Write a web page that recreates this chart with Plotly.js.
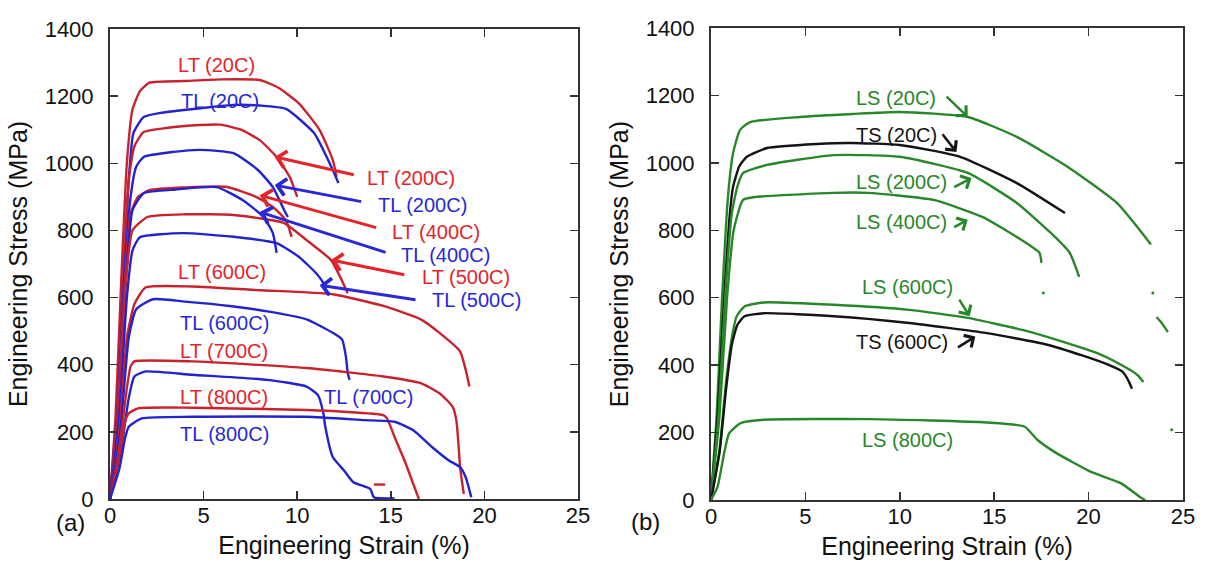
<!DOCTYPE html>
<html>
<head>
<meta charset="utf-8">
<script src="https://cdn.plot.ly/plotly-3.0.1.min.js"></script>
<style>html,body{margin:0;padding:0;background:#fff;}#chart{width:1207px;height:563px;}</style>
</head>
<body>
<div id="chart"></div>
<script>
// ---------- Panel (a): strain (%) and stress (MPa) ----------
const LT20_x  = [0,0.3,0.6,0.9,1.2,1.6,2.1,4,6,8,9,10.1,11.2,11.9,12.1];
const LT20_y  = [0,250,650,1000,1160,1215,1240,1245,1250,1248,1225,1178,1099,1010,960];
const TL20_x  = [0,0.35,0.7,1.0,1.25,1.8,2.7,5,6.6,8,9.4,10.9,11.9,12.2];
const TL20_y  = [0,250,650,950,1090,1138,1150,1165,1174,1172,1162,1090,980,941];
const LT200_x = [0,0.35,0.7,1.0,1.3,1.8,3,4.8,5.9,7,8,8.9,9.6,10.0];
const LT200_y = [0,250,650,950,1050,1093,1105,1114,1115,1100,1069,1019,959,900];
const TL200_x = [0,0.4,0.75,1.1,1.4,1.8,3.4,4.8,6.6,7.9,8.7,9.3,9.5];
const TL200_y = [0,250,650,900,990,1019,1034,1040,1030,980,929,861,840];
const LT400_x = [0,0.4,0.8,1.1,1.5,2.1,4,6.2,7.8,8.7,9.4,9.7];
const LT400_y = [0,250,650,850,900,920,928,930,900,870,830,781];
const TL400_x = [0,0.45,0.85,1.2,1.8,3.5,5.7,7.1,8.2,8.7,8.9];
const TL400_y = [0,250,650,860,911,922,929,890,840,792,733];
const LT500_x = [0,0.45,0.85,1.2,2.0,4,6.6,9.3,10.5,11.8,12.3,12.7];
const LT500_y = [0,250,650,800,840,848,846,822,771,712,661,613];
const TL500_x = [0,0.5,0.9,1.2,1.6,3.9,6.6,8.9,10.1,11.0,11.4,11.6];
const TL500_y = [0,250,600,740,780,792,781,762,721,673,643,613];
const LT600_x = [0,0.5,0.9,1.3,1.9,4.4,8,11.9,14.6,16.6,17.6,18.7,19.0,19.2];
const LT600_y = [0,200,480,580,630,633,622,610,575,535,495,440,385,335];
const TL600_x = [0,0.55,1.0,1.4,2.3,4,6.4,8.5,10.5,11.9,12.4,12.6,12.7,12.8];
const TL600_y = [0,200,480,565,595,588,575,558,535,495,475,425,375,355];
const LT700_x = [0,0.5,0.9,1.1,1.3,4.4,10.5,14.6,16.6,17.6,18.3,18.5,18.6,18.7,18.9];
const LT700_y = [0,150,330,395,410,410,390,365,345,315,275,235,175,95,15];
const TL700_x = [0,0.6,1.0,1.3,1.9,4.4,8.4,10.5,11.1,11.4,11.5,11.9,12.5,13.0,13.9,14.1,15.2];
const TL700_y = [0,150,300,365,380,370,355,335,310,255,215,125,85,50,30,5,2];
const LT800_x = [0,0.5,0.8,1.0,1.5,4.4,10.5,12.5,14.6,14.8,15.2,15.8,16.2,16.5];
const LT800_y = [0,120,230,255,270,272,265,260,250,240,185,105,45,0];
const TL800_x = [0,0.5,0.8,1.0,1.7,4.4,10.5,13.6,15.2,16.2,17.2,18.1,18.7,19.0,19.3];
const TL800_y = [0,90,180,215,240,245,245,235,230,205,155,115,95,65,5];
// small detached red dash below the LT (800C) drop
const LT800dash_x = [14.1,14.7];
const LT800dash_y = [43,43];

// ---------- Panel (b) ----------
const LS20_x  = [0,0.3,0.58,0.9,1.17,1.54,2.07,4.7,7.5,10.0,13.6,16.2,18.9,21.5,23.3];
const LS20_y  = [0,250,593,900,1029,1098,1121,1136,1145,1151,1136,1077,988,881,758];
const TS20_x  = [0,0.35,0.7,1.0,1.17,1.5,1.9,2.97,5.6,7.4,10.0,13.2,16.2,18.75];
const TS20_y  = [0,250,600,850,929,990,1018,1044,1056,1059,1053,1018,940,851];
const LS200_x = [0,0.4,0.75,1.1,1.4,1.7,2.97,6.5,10.0,13.6,16.2,18.0,19.0,19.5];
const LS200_y = [0,250,600,850,930,970,994,1023,1018,970,881,792,733,662];
const LS400_x = [0,0.45,0.85,1.2,1.7,2.4,6.5,8.3,11.8,14.4,16.2,17.4,17.5];
const LS400_y = [0,250,600,800,890,899,911,911,890,839,780,733,703];
const LS600_x = [0,0.45,0.8,1.1,1.36,1.77,2.8,6.5,10.5,13.6,16.6,18.7,20.7,22.0,22.6,22.9];
const LS600_y = [0,150,350,480,545,574,586,579,564,540,503,468,430,392,370,350];
const TS600_x = [0,0.45,0.8,1.1,1.4,1.77,2.8,6.5,10.5,14.6,17.7,19.7,21.0,21.8,22.1,22.3];
const TS600_y = [0,140,330,460,520,545,554,545,525,495,462,428,402,380,355,330];
const LS800_x = [0,0.35,0.7,0.96,1.57,2.8,8.5,14.6,16.6,17.3,18.3,20.1,21.7,22.7,23.0];
const LS800_y = [0,40,140,198,228,238,240,230,218,178,139,84,50,10,0];
// detached green fragments at the right of panel (b)
const LSfrag_x = [23.6,23.8,24.0,24.2];
const LSfrag_y = [543,530,515,498];
const speckB_x = [23.4,24.4,17.6];
const speckB_y = [614,208,614];

const RED = 'rgb(200,35,45)', BLUE = 'rgb(35,35,205)', GREEN = 'rgb(40,135,40)', BLACK = 'rgb(20,20,20)';
const RED_T = 'rgb(228,36,42)', BLUE_T = 'rgb(40,40,215)', GREEN_T = 'rgb(40,135,40)';
const FONT = 'Liberation Sans, Arial, sans-serif';

function curve(x, y, color, xa, ya, name) {
  return {x: x, y: y, type: 'scatter', mode: 'lines', name: name,
          line: {color: color, width: 2.4, shape: 'spline', smoothing: 0.5},
          xaxis: xa, yaxis: ya, hoverinfo: 'x+y+name'};
}

const data = [
  curve(LT20_x, LT20_y, RED, 'x', 'y', 'LT (20C)'),
  curve(TL20_x, TL20_y, BLUE, 'x', 'y', 'TL (20C)'),
  curve(LT200_x, LT200_y, RED, 'x', 'y', 'LT (200C)'),
  curve(TL200_x, TL200_y, BLUE, 'x', 'y', 'TL (200C)'),
  curve(LT400_x, LT400_y, RED, 'x', 'y', 'LT (400C)'),
  curve(TL400_x, TL400_y, BLUE, 'x', 'y', 'TL (400C)'),
  curve(LT500_x, LT500_y, RED, 'x', 'y', 'LT (500C)'),
  curve(TL500_x, TL500_y, BLUE, 'x', 'y', 'TL (500C)'),
  curve(LT600_x, LT600_y, RED, 'x', 'y', 'LT (600C)'),
  curve(TL600_x, TL600_y, BLUE, 'x', 'y', 'TL (600C)'),
  curve(LT700_x, LT700_y, RED, 'x', 'y', 'LT (700C)'),
  curve(TL700_x, TL700_y, BLUE, 'x', 'y', 'TL (700C)'),
  curve(LT800_x, LT800_y, RED, 'x', 'y', 'LT (800C)'),
  curve(TL800_x, TL800_y, BLUE, 'x', 'y', 'TL (800C)'),
  curve(LT800dash_x, LT800dash_y, RED, 'x', 'y', 'LT (800C) fragment'),
  curve(LS20_x, LS20_y, GREEN, 'x2', 'y2', 'LS (20C)'),
  curve(TS20_x, TS20_y, BLACK, 'x2', 'y2', 'TS (20C)'),
  curve(LS200_x, LS200_y, GREEN, 'x2', 'y2', 'LS (200C)'),
  curve(LS400_x, LS400_y, GREEN, 'x2', 'y2', 'LS (400C)'),
  curve(LS600_x, LS600_y, GREEN, 'x2', 'y2', 'LS (600C)'),
  curve(TS600_x, TS600_y, BLACK, 'x2', 'y2', 'TS (600C)'),
  curve(LS800_x, LS800_y, GREEN, 'x2', 'y2', 'LS (800C)'),
  curve(LSfrag_x, LSfrag_y, GREEN, 'x2', 'y2', 'fragment'),
  {x: speckB_x, y: speckB_y, type: 'scatter', mode: 'markers', xaxis: 'x2', yaxis: 'y2',
   marker: {color: GREEN, size: 3}, hoverinfo: 'skip', name: 'specks'}
];

function xax(domain, anchor) {
  return {domain: domain, anchor: anchor, range: [0, 25], dtick: 5, tick0: 0,
    ticks: 'inside', ticklen: 8, tickwidth: 1.5, tickcolor: '#333',
    showline: true, linecolor: '#333', linewidth: 2, mirror: 'ticks',
    showgrid: false, zeroline: false, ticklabelstandoff: -4,
    tickfont: {family: FONT, size: 22, color: '#111'},
    title: {text: 'Engineering Strain (%)', font: {family: FONT, size: 25, color: '#111'}, standoff: 9}};
}
function yax(domain, anchor) {
  return {domain: domain, anchor: anchor, range: [0, 1400], dtick: 200, tick0: 0,
    ticks: 'inside', ticklen: 8, tickwidth: 1.5, tickcolor: '#333',
    showline: true, linecolor: '#333', linewidth: 2, mirror: 'ticks',
    showgrid: false, zeroline: false, ticklabelstandoff: 10,
    tickfont: {family: FONT, size: 22, color: '#111'},
    title: {text: 'Engineering Stress (MPa)', font: {family: FONT, size: 25, color: '#111'}, standoff: 10}};
}

function label(text, x, y, color, xr, yr) {
  return {text: text, x: x, y: y, xref: xr, yref: yr, showarrow: false,
          font: {family: FONT, size: 20, color: color}, xanchor: 'center', yanchor: 'middle'};
}
function arrow(x, y, ax, ay, color, xr, yr, w) {
  return {text: '', x: x, y: y, ax: ax, ay: ay, xref: xr, yref: yr, axref: xr, ayref: yr,
          showarrow: true, arrowhead: 4, arrowsize: 1.1, arrowwidth: w || 3, arrowcolor: color};
}

const annotations = [
  label('LT (20C)', 5.7, 1293, RED_T, 'x', 'y'),
  label('TL (20C)', 5.9, 1186, BLUE_T, 'x', 'y'),
  label('LT (200C)', 16.1, 956, RED_T, 'x', 'y'),
  label('TL (200C)', 16.7, 876, BLUE_T, 'x', 'y'),
  label('LT (400C)', 17.4, 795, RED_T, 'x', 'y'),
  label('TL (400C)', 17.9, 727, BLUE_T, 'x', 'y'),
  label('LT (500C)', 19.0, 661, RED_T, 'x', 'y'),
  label('TL (500C)', 19.6, 593, BLUE_T, 'x', 'y'),
  label('LT (600C)', 6.0, 676, RED_T, 'x', 'y'),
  label('TL (600C)', 6.1, 525, BLUE_T, 'x', 'y'),
  label('LT (700C)', 6.1, 440, RED_T, 'x', 'y'),
  label('LT (800C)', 6.1, 305, RED_T, 'x', 'y'),
  label('TL (700C)', 13.8, 305, BLUE_T, 'x', 'y'),
  label('TL (800C)', 6.1, 195, BLUE_T, 'x', 'y'),
  arrow(8.8, 1019, 13.1, 965, RED_T, 'x', 'y'),
  arrow(8.8, 935, 13.5, 885, BLUE_T, 'x', 'y'),
  arrow(8.0, 905, 14.3, 807, RED_T, 'x', 'y'),
  arrow(8.0, 855, 14.8, 733, BLUE_T, 'x', 'y'),
  arrow(11.8, 712, 15.8, 667, RED_T, 'x', 'y'),
  arrow(11.2, 637, 16.4, 593, BLUE_T, 'x', 'y'),

  label('LS (20C)', 9.8, 1192, GREEN_T, 'x2', 'y2'),
  label('TS (20C)', 9.8, 1083, BLACK, 'x2', 'y2'),
  label('LS (200C)', 10.1, 943, GREEN_T, 'x2', 'y2'),
  label('LS (400C)', 10.1, 825, GREEN_T, 'x2', 'y2'),
  label('LS (600C)', 10.4, 632, GREEN_T, 'x2', 'y2'),
  label('TS (600C)', 10.1, 470, BLACK, 'x2', 'y2'),
  label('LS (800C)', 10.4, 178, GREEN_T, 'x2', 'y2'),
  arrow(13.6, 1136, 12.4, 1201, GREEN_T, 'x2', 'y2', 2.5),
  arrow(13.0, 1032, 12.2, 1089, BLACK, 'x2', 'y2', 2.5),
  arrow(13.8, 955, 12.8, 926, GREEN_T, 'x2', 'y2', 2.5),
  arrow(13.6, 831, 12.8, 807, GREEN_T, 'x2', 'y2', 2.5),
  arrow(13.7, 545, 13.1, 599, GREEN_T, 'x2', 'y2', 2.5),
  arrow(14.0, 485, 13.0, 450, BLACK, 'x2', 'y2', 2.5),

  {text: '(a)', x: 70, y: 522, xref: 'paper', yref: 'paper', showarrow: false,
   xanchor: 'center', yanchor: 'middle', font: {family: FONT, size: 24, color: '#111'}},
  {text: '(b)', x: 645, y: 521, xref: 'paper', yref: 'paper', showarrow: false,
   xanchor: 'center', yanchor: 'middle', font: {family: FONT, size: 24, color: '#111'}}
];
// convert pixel positions of panel letters to paper fractions
annotations.forEach(a => { if (a.xref === 'paper') { a.x = a.x / 1207; a.y = 1 - a.y / 563; } });

const layout = {
  width: 1207, height: 563,
  margin: {l: 0, r: 0, t: 0, b: 0},
  paper_bgcolor: '#fff', plot_bgcolor: '#fff',
  showlegend: false,
  font: {family: FONT},
  xaxis: xax([110/1207, 578/1207], 'y'),
  yaxis: yax([64/563, 534/563], 'x'),
  xaxis2: xax([711/1207, 1183/1207], 'y2'),
  yaxis2: yax([63/563, 535/563], 'x2'),
  annotations: annotations
};

Plotly.newPlot('chart', data, layout, {displayModeBar: false, staticPlot: true});
</script>
</body>
</html>
